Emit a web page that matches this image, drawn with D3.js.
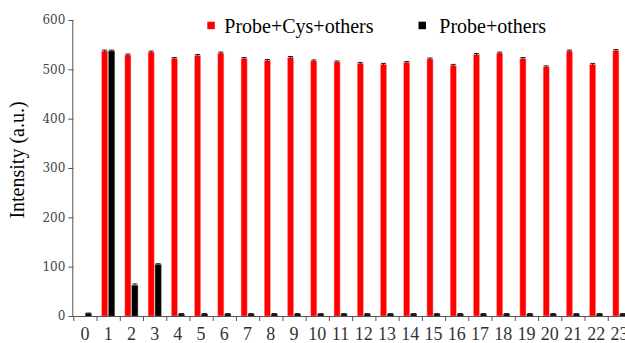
<!DOCTYPE html>
<html><head><meta charset="utf-8">
<script src="https://cdn.jsdelivr.net/npm/d3@7/dist/d3.min.js"></script>
<style>html,body{margin:0;padding:0;background:#fff;}svg{display:block;}</style>
</head><body>
<svg id="chart" width="625" height="343"></svg>
<script>
const categories = ["0","1","2","3","4","5","6","7","8","9","10","11","12","13","14","15","16","17","18","19","20","21","22","23"];
const seriesNames = ["Probe+Cys+others","Probe+others"];
const cysValues = [0,537,529,535,522,528,533,522,518,524,517,515,512,510,514,521,508,530,533,522,505,537,510,538];
const cysErrors = [0,2,2,2,2,2,2,2,2,2,2,2,2,2,2,2,2,2,2,2,2,2,2,2];
const othersValues = [5,537,62,104,4,4,4,4,4,4,4,4,4,4,4,4,4,4,4,4,4,4,4,4];
const othersErrors = [1,2,3,2,1,1,1,1,1,1,1,1,1,1,1,1,1,1,1,1,1,1,1,1];
const yTicks = [0,100,200,300,400,500,600];
const colors = ["#ff0000","#000000"];

(function(){
const svg = d3.select("#chart");
const mLeft = 73.3, mRight = 631, mTop = 20, mBottom = 316;
const serifA = "'Liberation Serif', 'Times New Roman', Times, 'DejaVu Serif', serif";
const serifB = "'DejaVu Serif', 'Liberation Serif', serif";

const x = d3.scaleBand().domain(categories).range([mLeft, mRight]).padding(0);
const xb = d3.scaleLinear().domain([0, categories.length]).range([mLeft, mRight]);
const y = d3.scaleLinear().domain([0, 600]).range([mBottom, mTop]);
const bw = x.bandwidth();
const barW = bw * 0.26;
const offsets = [bw/2 - bw*0.28, bw/2 + bw*0.02];

const series = [cysValues, othersValues];
const errs = [cysErrors, othersErrors];
series.forEach((vals, si) => {
  const data = categories.map((c, i) => ({c, v: vals[i], e: errs[si][i]})).filter(d => d.v > 0);
  svg.append("g").selectAll("rect").data(data).join("rect")
    .attr("x", d => x(d.c) + offsets[si])
    .attr("width", barW)
    .attr("y", d => y(d.v))
    .attr("height", d => y(0) - y(d.v))
    .attr("fill", colors[si])
    .attr("stroke", si === 0 ? "#ff9a9a" : "#555")
    .attr("stroke-width", 0.5);
  const eg = svg.append("g").attr("stroke", "#222").attr("stroke-width", 1);
  data.forEach(d => {
    const cx = x(d.c) + offsets[si] + barW/2;
    eg.append("line").attr("x1", cx).attr("x2", cx).attr("y1", y(d.v - d.e)).attr("y2", y(d.v + d.e));
    eg.append("line").attr("x1", cx-2.5).attr("x2", cx+2.5).attr("y1", y(d.v + d.e)).attr("y2", y(d.v + d.e));
  });
});

const yAxis = svg.append("g").attr("transform", `translate(${mLeft},0)`)
  .call(d3.axisLeft(y).tickValues(yTicks).tickSize(5).tickPadding(3));
yAxis.attr("font-family", null).attr("font-size", null);
yAxis.select(".domain").attr("stroke", "#555").attr("d", `M-0.5,${mTop}V${mBottom}`);
yAxis.selectAll(".tick line").attr("stroke", "#555");
yAxis.selectAll("text").style("font-family", serifB).style("font-size", "12px").attr("fill", "#444");

const xTickAxis = svg.append("g").attr("transform", `translate(0,${mBottom})`)
  .call(d3.axisBottom(xb).tickValues(d3.range(0, categories.length + 1)).tickSize(5).tickFormat(""));
xTickAxis.select(".domain").attr("stroke", "#555").attr("d", `M${mLeft},0.5H${mRight}`);
xTickAxis.selectAll(".tick line").attr("stroke", "#555");

const xLab = svg.append("g").attr("transform", `translate(0,${mBottom})`)
  .call(d3.axisBottom(x).tickSize(0).tickPadding(11));
xLab.attr("font-family", null).attr("font-size", null);
xLab.select(".domain").remove();
xLab.selectAll("text").style("font-family", serifA).style("font-size", "18px").attr("fill", "#333");

svg.append("text")
  .attr("transform", `translate(24,160) rotate(-90)`)
  .attr("text-anchor", "middle")
  .style("font-family", serifA).style("font-size", "20px").attr("fill", "#000")
  .text("Intensity (a.u.)");

const legendPos = [[207.3, 224.3], [418.5, 439.3]];
seriesNames.forEach((name, i) => {
  svg.append("rect").attr("x", legendPos[i][0]).attr("y", 21.7).attr("width", 7.5).attr("height", 7.5).attr("fill", colors[i]);
  svg.append("text").attr("x", legendPos[i][1]).attr("y", 32.7)
    .style("font-family", serifA).style("font-size", "20px").attr("fill", "#000").text(name);
});
})();
</script>
</body></html>
